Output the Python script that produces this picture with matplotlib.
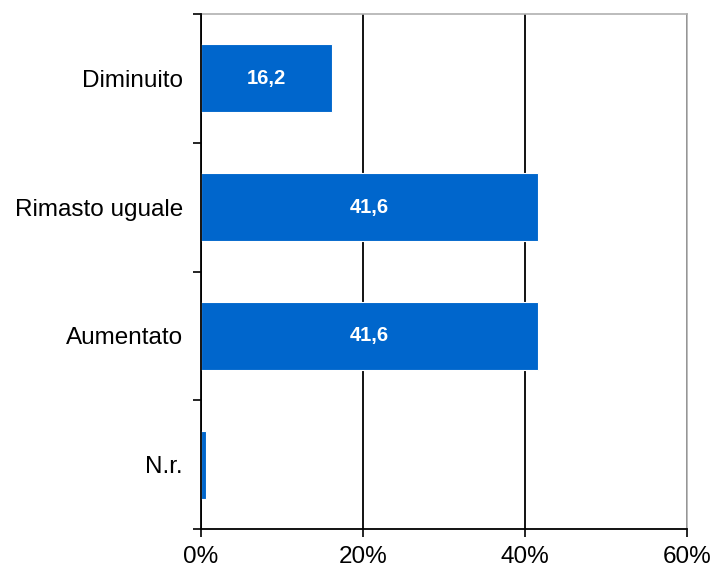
import numpy as np
import matplotlib
matplotlib.use('Agg')
import matplotlib.pyplot as plt

plt.rcParams['font.family'] = ['Liberation Sans', 'DejaVu Sans']

categories = ['N.r.', 'Aumentato', 'Rimasto uguale', 'Diminuito']
values = [0.6, 41.6, 41.6, 16.2]
xticks = [0, 20, 40, 60]
BLUE = '#0066CC'

fig = plt.figure(figsize=(7.15, 5.78), dpi=100)
ax = fig.add_axes([201/715, 1-529/578, (687-201)/715, (529-14)/578])

y = np.arange(len(categories))
ax.barh(y, values, height=0.53, color=BLUE, edgecolor='white', linewidth=0.8, zorder=3)
for yi, v in zip(y, values):
    if v >= 5:
        ax.text(v/2, yi, f'{v:.1f}'.replace('.', ','), color='white', fontsize=14.5,
                fontweight='bold', ha='center', va='center', zorder=4)

ax.set_xlim(0, 60)
ax.set_ylim(-0.5, len(categories)-0.5)
ax.set_xticks(xticks)
ax.set_xticklabels([f'{t}%' for t in xticks], fontsize=17.5)
ax.tick_params(axis='x', length=6, width=1.2, pad=6, color='black')

ax.set_yticks(y)
ax.set_yticklabels(categories, fontsize=17.5)
ax.tick_params(axis='y', which='major', length=0, pad=13)
ax.set_yticks(np.arange(-0.5, len(categories)), minor=True)
ax.tick_params(axis='y', which='minor', length=6, width=1.2, color='black')

ax.grid(axis='x', color='black', linewidth=1.3, zorder=1)
ax.set_axisbelow(True)
for s in ['left', 'bottom']:
    ax.spines[s].set_linewidth(1.3)
    ax.spines[s].set_zorder(5)
for s in ['top', 'right']:
    ax.spines[s].set_color('#b0b0b0')
    ax.spines[s].set_linewidth(1.2)

fig.savefig('out.png', dpi=100)
